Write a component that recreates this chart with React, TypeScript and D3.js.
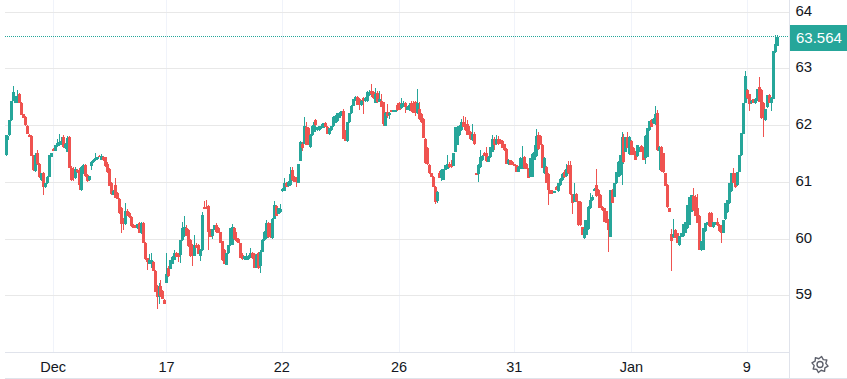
import React from "react";
import * as d3 from "d3";

type Bar = number[]; // open, high, low, close

const tailNovember: Bar[] = [
[61.48,61.83,61.46,61.83],[61.75,61.84,61.73,61.82],[61.83,62.09,61.82,62.09],[62.09,62.44,62.08,62.44],[62.44,62.69,62.43,62.59],[62.40,62.52,62.39,62.50],[62.40,62.62,62.39,62.52],[62.56,62.58,62.40,62.40],[62.40,62.41,62.18,62.18],[62.20,62.21,62.13,62.14],[62.15,62.16,62.00,62.01],[62.00,62.01,61.86,61.86],[61.84,61.85,61.79,61.80],[61.82,61.83,61.46,61.47],[61.48,61.49,61.20,61.22],[61.20,61.52,61.19,61.48],[61.52,61.57,61.30,61.32],[61.32,61.34,61.08,61.10],[61.04,61.17,61.03,61.16],[61.16,61.18,60.78,60.91],[60.91,60.99,60.90,60.98],[60.98,61.11,60.97,61.10],[61.10,61.48,61.09,61.48],[61.45,61.52,61.44,61.51],
];
const december1To17: Bar[] = [
[61.59,61.60,61.55,61.55],[61.56,61.65,61.55,61.65],[61.64,61.77,61.63,61.69],[61.65,61.86,61.64,61.71],[61.67,61.80,61.66,61.73],[61.80,61.83,61.61,61.62],[61.60,61.70,61.59,61.68],[61.54,61.81,61.53,61.78],[61.80,61.82,61.25,61.26],[61.26,61.28,61.02,61.05],[61.20,61.27,61.03,61.07],[61.07,61.27,61.06,61.24],[61.22,61.24,61.17,61.18],[61.22,61.25,60.86,60.95],[60.86,61.28,60.85,61.27],[61.15,61.33,61.14,61.30],[61.30,61.32,61.10,61.12],[61.13,61.15,61.00,61.02],[61.04,61.12,61.03,61.11],[61.29,61.37,61.22,61.36],[61.35,61.41,61.34,61.40],[61.39,61.51,61.38,61.43],[61.41,61.45,61.40,61.44],[61.47,61.48,61.44,61.44],[61.40,61.50,61.39,61.47],[61.44,61.47,61.38,61.39],[61.44,61.45,61.27,61.28],[61.33,61.35,61.17,61.19],[61.24,61.25,60.94,60.94],[60.98,61.00,60.78,60.80],[60.78,60.86,60.77,60.85],[60.95,61.08,60.72,60.72],[60.81,60.83,60.70,60.70],[60.70,60.72,60.45,60.46],[60.54,60.56,60.10,60.27],[60.35,60.37,60.16,60.26],[60.26,60.63,60.25,60.50],[60.50,60.53,60.40,60.41],[60.46,60.48,60.38,60.39],[60.39,60.41,60.22,60.23],[60.25,60.26,60.19,60.20],[60.22,60.25,60.19,60.20],[60.19,60.27,60.18,60.26],[60.28,60.30,60.10,60.11],[60.10,60.31,60.09,60.28],[60.28,60.30,59.93,59.94],[59.94,59.95,59.64,59.65],[59.66,59.67,59.46,59.60],[59.57,59.74,59.56,59.64],[59.58,59.75,59.50,59.63],[59.60,59.62,59.43,59.44],[59.44,59.45,59.07,59.07],[59.17,59.19,58.77,58.98],[58.98,59.22,58.85,59.17],[59.18,59.28,58.98,58.99],[59.08,59.10,58.94,58.95],[58.93,58.95,58.85,58.86],
];
const december17To22: Bar[] = [
[59.23,59.76,59.22,59.39],[59.50,59.52,59.34,59.35],[59.48,59.64,59.47,59.63],[59.57,59.70,59.56,59.68],[59.64,59.81,59.63,59.75],[59.75,59.77,59.68,59.69],[59.74,59.76,59.60,59.68],[59.72,59.99,59.58,59.98],[59.98,60.31,59.97,60.19],[60.05,60.41,60.04,60.21],[60.20,60.25,60.05,60.06],[60.16,60.18,59.87,59.88],[59.99,60.00,59.69,59.70],[59.90,59.92,59.53,59.71],[59.71,60.07,59.70,59.90],[59.90,59.93,59.84,59.85],[59.90,59.92,59.73,59.74],[59.70,59.83,59.62,59.81],[59.80,60.48,59.79,60.42],[60.56,60.68,60.54,60.55],[60.56,60.69,60.53,60.55],[60.58,60.60,59.81,60.13],[60.16,60.18,60.03,60.04],[60.05,60.18,60.00,60.17],[60.17,60.25,60.16,60.24],[60.24,60.28,60.11,60.13],[60.19,60.21,60.10,60.11],[60.12,60.13,59.94,59.94],[59.96,59.97,59.62,59.63],[59.81,59.82,59.56,59.57],[59.55,59.75,59.54,59.75],[59.75,59.90,59.74,59.89],[59.89,60.19,59.88,60.19],[59.90,60.27,59.89,60.22],[60.19,60.21,59.99,60.00],[60.02,60.12,59.95,59.96],[60.00,60.02,59.93,59.94],[59.93,59.94,59.66,59.67],[59.72,59.76,59.64,59.65],[59.65,59.71,59.64,59.70],[59.64,59.76,59.63,59.69],[59.65,59.72,59.64,59.70],[59.67,59.84,59.66,59.75],[59.75,59.77,59.65,59.66],[59.74,59.76,59.50,59.50],[59.50,59.73,59.49,59.72],[59.75,59.77,59.47,59.50],[59.52,59.80,59.41,59.78],[59.78,60.00,59.77,59.99],[59.99,60.14,59.96,60.13],[60.02,60.34,60.01,60.28],[60.28,60.31,60.02,60.03],[60.27,60.29,60.02,60.04],[60.02,60.37,60.01,60.36],[60.36,60.67,60.35,60.60],[60.58,60.60,60.40,60.41],[60.45,60.55,60.44,60.54],[60.47,60.61,60.46,60.53],
];
const december22To26: Bar[] = [
[60.85,60.90,60.83,60.89],[60.85,61.07,60.84,60.98],[60.98,61.00,60.91,60.92],[60.93,61.03,60.92,61.01],[60.95,61.27,60.94,61.15],[61.22,61.27,61.03,61.05],[61.09,61.11,61.00,61.01],[61.08,61.10,60.92,61.03],[60.99,61.33,60.98,61.33],[61.38,61.72,61.37,61.71],[61.68,61.71,61.55,61.60],[61.68,62.15,61.67,61.99],[61.98,62.06,61.65,61.66],[61.96,61.98,61.65,61.66],[61.62,61.86,61.61,61.84],[61.83,62.01,61.82,62.00],[61.89,62.07,61.88,62.06],[62.10,62.12,62.00,62.01],[61.92,61.98,61.91,61.97],[61.92,62.00,61.91,61.99],[61.95,62.02,61.94,62.00],[61.96,62.05,61.95,62.04],[62.04,62.06,61.98,61.98],[61.98,62.00,61.85,61.85],[61.85,61.96,61.84,61.95],[61.92,62.00,61.91,61.99],[61.99,62.16,61.98,62.15],[62.05,62.18,62.04,62.17],[62.08,62.23,62.07,62.22],[62.14,62.24,62.13,62.23],[62.17,62.26,62.16,62.25],[62.26,62.30,61.76,61.77],[61.92,61.93,61.72,61.73],[61.72,62.07,61.71,62.06],[62.06,62.23,62.05,62.22],[62.22,62.36,62.21,62.35],[62.35,62.47,62.34,62.46],[62.44,62.52,62.43,62.51],[62.51,62.52,62.36,62.36],[62.47,62.49,62.27,62.38],[62.36,62.45,62.35,62.44],[62.49,62.51,62.21,62.44],[62.43,62.50,62.42,62.49],[62.43,62.60,62.42,62.59],[62.53,62.63,62.52,62.59],[62.61,62.74,62.50,62.55],[62.59,62.61,62.47,62.48],[62.40,62.67,62.39,62.56],[62.57,62.60,62.40,62.41],[62.42,62.61,62.41,62.47],[62.44,62.56,62.32,62.33],[62.41,62.42,62.00,62.03],[62.00,62.24,61.99,62.23],[62.24,62.38,62.13,62.16],[62.18,62.24,62.12,62.23],[62.27,62.28,62.24,62.25],[62.25,62.28,62.24,62.27],[62.25,62.28,62.24,62.27],[62.37,62.40,62.26,62.28],
];
const december26To31: Bar[] = [
[62.40,62.41,62.28,62.28],[62.31,62.49,62.30,62.38],[62.33,62.44,62.32,62.39],[62.40,62.41,62.22,62.32],[62.28,62.34,62.27,62.32],[62.27,62.39,62.26,62.37],[62.40,62.44,62.24,62.25],[62.39,62.44,62.22,62.23],[62.41,62.43,62.17,62.24],[62.22,62.65,62.21,62.39],[62.30,62.41,62.10,62.11],[62.20,62.23,62.05,62.06],[62.12,62.14,61.78,61.78],[61.77,61.78,61.33,61.34],[61.61,61.63,61.31,61.32],[61.31,61.32,61.15,61.16],[61.16,61.17,61.09,61.10],[61.10,61.11,60.92,60.92],[60.92,60.93,60.61,60.66],[60.67,60.84,60.64,60.83],[61.17,61.20,61.07,61.08],[61.07,61.23,61.03,61.22],[61.05,61.24,61.04,61.23],[61.22,61.31,61.21,61.30],[61.24,61.48,61.23,61.33],[61.33,61.36,61.26,61.27],[61.33,61.40,61.26,61.27],[61.29,61.52,61.28,61.52],[61.54,61.98,61.53,61.97],[61.66,62.00,61.65,61.98],[61.83,62.01,61.82,62.00],[61.92,62.12,61.91,62.06],[62.06,62.16,61.97,61.98],[62.03,62.15,61.91,61.92],[62.03,62.10,61.83,61.84],[62.00,62.02,61.83,61.84],[61.89,61.91,61.75,61.76],[61.75,62.02,61.72,61.86],[61.86,61.88,61.66,61.67],[61.16,61.17,61.13,61.14],[61.14,61.32,61.01,61.31],[61.27,61.57,61.26,61.45],[61.39,61.48,61.38,61.47],[61.52,61.53,61.46,61.47],[61.52,61.63,61.36,61.37],[61.36,61.46,61.35,61.45],[61.44,61.63,61.43,61.62],[61.54,61.84,61.53,61.77],[61.77,61.79,61.57,61.66],[61.67,61.83,61.66,61.77],[61.77,61.81,61.66,61.67],[61.75,61.77,61.68,61.69],[61.72,61.75,61.60,61.60],[61.67,61.68,61.56,61.57],[61.59,61.60,61.33,61.33],[61.33,61.41,61.30,61.40],[61.39,61.40,61.30,61.30],[61.36,61.37,61.30,61.31],
];
const december31ToJanuary: Bar[] = [
[61.32,61.33,61.28,61.29],[61.30,61.31,61.19,61.19],[61.19,61.28,61.18,61.27],[61.24,61.44,61.23,61.43],[61.24,61.64,61.23,61.43],[61.45,61.47,61.24,61.25],[61.33,61.34,61.23,61.24],[61.24,61.25,61.08,61.08],[61.10,61.43,61.09,61.42],[61.10,61.51,61.09,61.50],[61.40,61.65,61.39,61.54],[61.46,61.94,61.45,61.81],[61.84,61.88,61.57,61.58],[61.81,61.84,61.65,61.66],[61.65,61.67,61.25,61.26],[61.16,61.44,61.15,61.43],[61.27,61.29,60.98,60.98],[61.15,61.17,60.60,60.86],[60.86,60.87,60.79,60.80],[60.85,60.86,60.80,60.81],[60.82,60.85,60.81,60.84],[60.92,60.93,60.86,60.87],[60.84,60.99,60.83,60.98],[60.95,61.07,60.94,61.06],[61.04,61.16,61.03,61.15],[61.19,61.21,61.08,61.09],[61.11,61.33,61.10,61.24],[61.30,61.38,61.15,61.16],[61.30,61.38,60.78,60.79],[60.79,60.80,60.45,60.64],[60.66,60.99,60.65,60.79],[60.79,60.81,60.66,60.67],[60.67,60.68,60.23,60.24],[60.66,60.68,60.23,60.24],[60.21,60.22,60.07,60.08],[60.02,60.34,60.01,60.17],[60.08,60.34,60.07,60.33],[60.17,60.58,60.16,60.57],[60.54,60.82,60.53,60.69],[60.69,60.78,60.68,60.75],[60.87,60.90,60.85,60.88],[60.95,61.24,60.74,60.76],[60.87,60.88,60.54,60.76],[60.78,60.80,60.54,60.55],[60.57,60.58,60.50,60.51],[60.54,60.55,60.31,60.31],[60.49,60.50,60.28,60.28],[60.34,60.35,59.77,60.16],[60.04,60.87,60.03,60.86],[60.87,60.88,60.63,60.64],[60.75,60.98,60.74,60.98],[60.98,61.19,60.97,61.19],[61.10,61.37,61.09,61.36],[61.13,61.48,61.12,61.48],[61.33,61.88,60.95,61.80],[61.80,61.86,61.34,61.35],[61.54,61.80,61.53,61.79],[61.79,61.88,61.60,61.61],[61.50,61.81,61.49,61.80],
];
const januaryTo9: Bar[] = [
[61.73,61.75,61.49,61.49],[61.60,61.62,61.48,61.49],[61.55,61.56,61.39,61.40],[61.46,61.66,61.45,61.65],[61.54,61.63,61.53,61.62],[61.64,61.65,61.54,61.54],[61.61,61.63,61.39,61.40],[61.42,61.83,61.33,61.82],[61.45,61.95,61.44,61.95],[61.92,62.08,61.91,62.08],[62.10,62.12,61.97,61.98],[62.04,62.13,62.03,62.12],[62.02,62.34,62.01,62.21],[62.22,62.27,61.55,61.57],[61.56,61.64,61.22,61.63],[61.63,61.64,61.19,61.20],[61.51,61.52,61.17,61.18],[61.16,61.17,60.93,60.94],[60.96,60.97,60.55,60.56],[60.54,60.55,60.47,60.47],[60.09,60.18,59.43,59.96],[60.03,60.35,60.02,60.09],[60.16,60.18,60.02,60.02],[60.10,60.11,59.93,59.93],[59.90,60.05,59.88,60.05],[60.04,60.11,60.03,60.10],[60.05,60.27,60.04,60.27],[60.11,60.31,60.10,60.31],[60.19,60.60,60.18,60.60],[60.25,60.75,60.24,60.75],[60.48,60.78,60.47,60.77],[60.76,60.90,60.50,60.52],[60.75,60.78,60.40,60.40],[60.54,60.80,60.28,60.29],[60.40,60.43,59.81,59.81],[59.80,59.96,59.79,59.96],[59.81,60.19,59.80,60.19],[60.14,60.28,60.13,60.28],[60.25,60.31,60.24,60.31],[60.46,60.48,60.22,60.23],[60.46,60.47,60.21,60.22],[60.21,60.31,60.20,60.31],[60.25,60.31,60.24,60.31],[60.31,60.37,60.23,60.24],[60.25,60.26,60.13,60.14],[60.22,60.24,59.94,60.11],[60.11,60.34,60.10,60.34],[60.35,60.63,60.34,60.63],[60.47,60.69,60.46,60.69],[60.63,60.98,60.62,60.98],[60.84,61.16,60.83,61.16],[61.16,61.25,60.98,60.99],[61.15,61.16,60.90,60.91],[60.95,61.19,60.94,61.19],[61.19,61.48,61.18,61.48],[61.48,61.87,61.47,61.87],[61.86,62.40,61.85,62.40],[62.40,62.96,62.39,62.87],
];
const january9Onward: Bar[] = [
[62.63,62.65,62.47,62.48],[62.55,62.56,62.26,62.38],[62.39,62.45,62.38,62.44],[62.46,62.47,62.40,62.40],[62.39,62.48,62.38,62.47],[62.45,62.65,62.44,62.65],[62.68,62.86,62.41,62.42],[62.62,62.64,62.12,62.13],[62.39,62.41,61.80,62.13],[62.09,62.30,62.08,62.30],[62.32,62.53,62.31,62.53],[62.53,62.56,62.39,62.40],[62.39,62.50,62.26,62.49],[62.47,63.32,62.46,63.32],[63.29,63.59,63.28,63.44],[63.41,63.59,63.40,63.56],
];

const spans = [tailNovember, december1To17, december17To22, december22To26, december26To31, december31ToJanuary, januaryTo9, january9Onward];
const timeLabels = ["Dec", "17", "22", "26", "31", "Jan", "9"];
const priceTicks = [59, 60, 61, 62, 63, 64];
const lastPrice = 63.564;

const UP = "#26a69a";
const DOWN = "#ef5350";
const W = 847, H = 379, LEFT = 5, PLOT_R = 789, AXIS_Y = 352;

const bars = spans.flat();
const tickIndex = Array.from(d3.cumsum(spans.map((s) => s.length))).slice(0, timeLabels.length);

export default function App() {
  const y = d3.scaleLinear().domain([59, 64]).range([295.9, 12]);
  const x = d3.scaleLinear().domain([0, bars.length - 1]).range([LEFT + 0.5, 776.5]);
  const gear = d3.range(0, 16).map((i) => {
    const a = (i / 16) * 2 * Math.PI + Math.PI / 16;
    const r = i % 2 === 0 ? 8.2 : 5.9;
    return [820 + r * Math.cos(a), 364.5 + r * Math.sin(a)] as [number, number];
  });
  const row = (p: number) => Math.floor(y(p)) + 0.5;
  return (
    <svg width={W} height={H} style={{ position: "absolute", left: 0, top: 0, background: "#fff", fontFamily: "'Liberation Sans', Arial, sans-serif" }}>
      {tickIndex.map((t, i) => (
        <line key={i} x1={Math.round(x(t)) + 0.5} x2={Math.round(x(t)) + 0.5} y1={0} y2={AXIS_Y} stroke="#f0f3fa" />
      ))}
      {priceTicks.map((p) => (
        <line key={p} x1={LEFT} x2={PLOT_R} y1={row(p)} y2={row(p)} stroke="#e8e8e8" />
      ))}
      <line x1={LEFT} x2={PLOT_R} y1={row(lastPrice)} y2={row(lastPrice)} stroke={UP} strokeDasharray="1 1" />
      <g shapeRendering="crispEdges">
        {bars.map((b, i) => {
          const [o, h, l, c] = b;
          const col = c >= o ? UP : DOWN;
          const px = Math.round(x(i));
          const top = y(Math.max(o, c));
          const bottom = y(Math.min(o, c));
          return (
            <g key={i} fill={col}>
              <rect x={px} y={y(h)} width={1} height={Math.max(1, y(l) - y(h))} />
              <rect x={px - 1} y={top} width={3} height={Math.max(1.5, bottom - top)} />
            </g>
          );
        })}
      </g>
      <line x1={LEFT} x2={PLOT_R} y1={AXIS_Y + 0.5} y2={AXIS_Y + 0.5} stroke="#e0e3eb" />
      <line x1={LEFT} x2={W} y1={378.5} y2={378.5} stroke="#e0e3eb" />
      <line x1={PLOT_R + 0.5} x2={PLOT_R + 0.5} y1={0} y2={378} stroke="#e0e3eb" />
      {tickIndex.map((t, i) => (
        <text key={i} x={x(t)} y={372} textAnchor="middle" fontSize={14.5} fill="#131722">{timeLabels[i]}</text>
      ))}
      {priceTicks.map((p) => (
        <text key={p} x={795.5} y={y(p) + 3.5} fontSize={15} fill="#131722">{p}</text>
      ))}
      <rect x={790} y={25} width={57} height={26} fill={UP} />
      <text x={796} y={43} fontSize={15} fill="#fff">{lastPrice.toFixed(3)}</text>
      <path d={d3.line()(gear)! + "Z"} fill="none" stroke="#5d606b" strokeWidth={1.4} strokeLinejoin="round" />
      <circle cx={820} cy={364.5} r={3} fill="none" stroke="#5d606b" strokeWidth={1.4} />
    </svg>
  );
}
